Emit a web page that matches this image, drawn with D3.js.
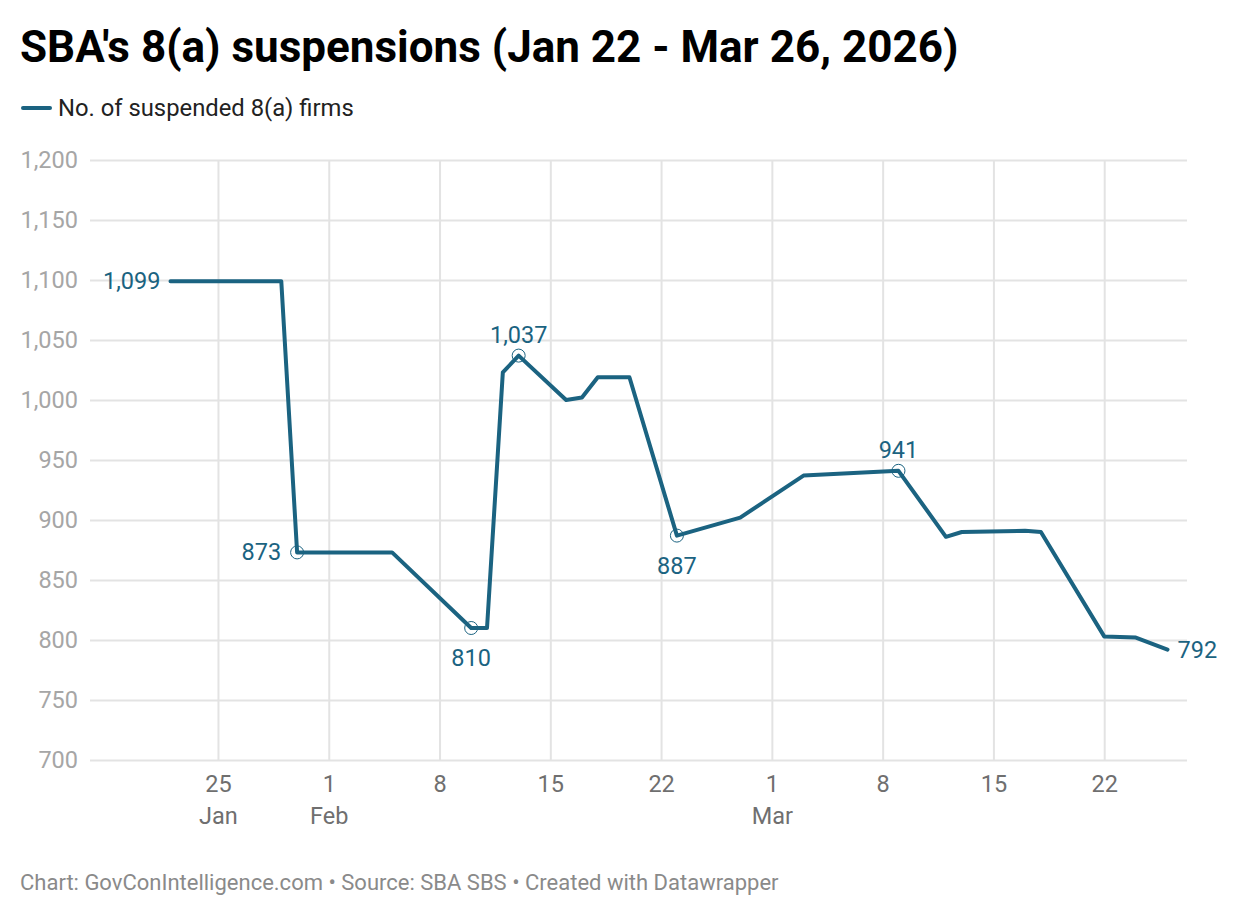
<!DOCTYPE html>
<html>
<head>
<meta charset="utf-8">
<script src="https://cdn.jsdelivr.net/npm/d3@7"></script>
<style>
  body { margin: 0; background: #fff; font-family: Roboto, sans-serif; }
  svg text { font-family: Roboto, sans-serif; }
</style>
</head>
<body>
<div id="chart"></div>
<script>
// chart data
var dates = ["2026-01-22", "2026-01-29", "2026-01-30", "2026-02-05", "2026-02-10", "2026-02-11",
  "2026-02-12", "2026-02-13", "2026-02-16", "2026-02-17", "2026-02-18", "2026-02-20",
  "2026-02-23", "2026-02-27", "2026-03-03", "2026-03-09", "2026-03-12", "2026-03-13",
  "2026-03-17", "2026-03-18", "2026-03-22", "2026-03-24", "2026-03-25", "2026-03-26"];
var suspended = [1099, 1099, 873, 873, 810, 810,
  1023, 1037, 1000, 1002, 1019, 1019,
  887, 902, 937, 941, 886, 890,
  891, 890, 803, 802, 797, 792];
var yTicks = [700, 750, 800, 850, 900, 950, 1000, 1050, 1100, 1150, 1200];
var xTicks = ["2026-01-25", "2026-02-01", "2026-02-08", "2026-02-15", "2026-02-22",
  "2026-03-01", "2026-03-08", "2026-03-15", "2026-03-22"];
// points that get a circle marker
var annotated = ["2026-01-30", "2026-02-10", "2026-02-13", "2026-02-23", "2026-03-09"];

var svgWidth = 1240, svgHeight = 916;
var margin = { top: 160, right: 53, bottom: 156, left: 90 };
var width = svgWidth - margin.left - margin.right;
var height = svgHeight - margin.top - margin.bottom;
var lineColor = "#1b6381";

var parse = d3.timeParse("%Y-%m-%d");
var fmtDay = d3.timeFormat("%Y-%m-%d");
var data = dates.map(function (d, i) { return { date: parse(d), value: suspended[i] }; });

var svg = d3.select("#chart").append("svg")
  .attr("width", svgWidth)
  .attr("height", svgHeight);

// title + legend
svg.append("text")
  .attr("x", 20).attr("y", 62)
  .style("font-size", "44px").style("font-weight", 700).style("fill", "#000")
  .text("SBA's 8(a) suspensions (Jan 22 - Mar 26, 2026)");

svg.append("line")
  .attr("x1", 23).attr("x2", 50).attr("y1", 108).attr("y2", 108)
  .attr("stroke", lineColor).attr("stroke-width", 4).attr("stroke-linecap", "round");
svg.append("text")
  .attr("x", 58).attr("y", 116)
  .style("font-size", "23.8px").style("fill", "#222")
  .text("No. of suspended 8(a) firms");

var chartGroup = svg.append("g")
  .attr("transform", `translate(${margin.left}, ${margin.top})`);

var x = d3.scaleTime()
  .domain([parse("2026-01-22"), parse("2026-03-26")])
  .range([80.5, 1077.5]);

var y = d3.scaleLinear()
  .domain([700, 1200])
  .range([height, 0]);

// horizontal grid + y labels
var yAxis = d3.axisLeft(y)
  .tickValues(yTicks)
  .tickSize(-width)
  .tickPadding(12)
  .tickFormat(d3.format(","));
var yg = chartGroup.append("g").call(yAxis);
yg.select(".domain").remove();
yg.selectAll(".tick line").attr("stroke", "#e3e3e3").attr("stroke-width", 2);
yg.selectAll(".tick text").style("font-size", "23.5px").style("fill", "#a6a6a6");

// vertical grid + x labels
var xAxis = d3.axisBottom(x)
  .tickValues(xTicks.map(parse))
  .tickSize(-height)
  .tickPadding(15)
  .tickFormat(d3.timeFormat("%-d"));
var xg = chartGroup.append("g")
  .attr("transform", `translate(0, ${height})`)
  .call(xAxis);
xg.select(".domain").remove();
xg.selectAll(".tick line").attr("stroke", "#e3e3e3").attr("stroke-width", 2);
xg.selectAll(".tick text").style("font-size", "23.5px").style("fill", "#6f6f6f");
xg.selectAll(".tick")
  .filter(function (d) { return d.getDate() === 1 || d.getDate() === 25 && d.getMonth() === 0; })
  .append("text")
  .attr("y", 64)
  .attr("text-anchor", "middle")
  .style("font-size", "23.5px").style("fill", "#6f6f6f")
  .text(d3.timeFormat("%b"));

// line
var line = d3.line()
  .x(d => x(d.date))
  .y(d => y(d.value));

chartGroup.append("path")
  .datum(data)
  .attr("fill", "none")
  .attr("stroke", lineColor)
  .attr("stroke-width", 4)
  .attr("stroke-linejoin", "round")
  .attr("stroke-linecap", "round")
  .attr("d", line);

// markers on annotated points
var marked = data.filter(d => annotated.indexOf(fmtDay(d.date)) >= 0);
chartGroup.selectAll(".marker")
  .data(marked)
  .enter()
  .append("circle")
  .attr("cx", d => x(d.date))
  .attr("cy", d => y(d.value))
  .attr("r", 6.5)
  .attr("fill", "none")
  .attr("stroke", lineColor)
  .attr("stroke-width", 1);

// value labels
var first = data[0], last = data[data.length - 1];
var labelPos = {
  "2026-01-30": { dx: -16, dy: 8, anchor: "end" },
  "2026-02-10": { dx: 0, dy: 38, anchor: "middle" },
  "2026-02-13": { dx: 0, dy: -13, anchor: "middle" },
  "2026-02-23": { dx: 0, dy: 38, anchor: "middle" },
  "2026-03-09": { dx: 0, dy: -13, anchor: "middle" }
};
var labels = marked.map(function (d) {
  var p = labelPos[fmtDay(d.date)];
  return { date: d.date, value: d.value, dx: p.dx, dy: p.dy, anchor: p.anchor };
});
labels.push({ date: first.date, value: first.value, dx: -10, dy: 8, anchor: "end" });
labels.push({ date: last.date, value: last.value, dx: 10, dy: 8, anchor: "start" });

chartGroup.selectAll(".vlabel")
  .data(labels)
  .enter()
  .append("text")
  .attr("x", d => x(d.date) + d.dx)
  .attr("y", d => y(d.value) + d.dy)
  .attr("text-anchor", d => d.anchor)
  .style("font-size", "23.5px")
  .style("fill", lineColor)
  .text(d => d3.format(",")(d.value));

// footer
svg.append("text")
  .attr("x", 20).attr("y", 890)
  .style("font-size", "22px").style("fill", "#8a8a8a")
  .text("Chart: GovConIntelligence.com \u2022 Source: SBA SBS \u2022 Created with Datawrapper");
</script>
</body>
</html>
